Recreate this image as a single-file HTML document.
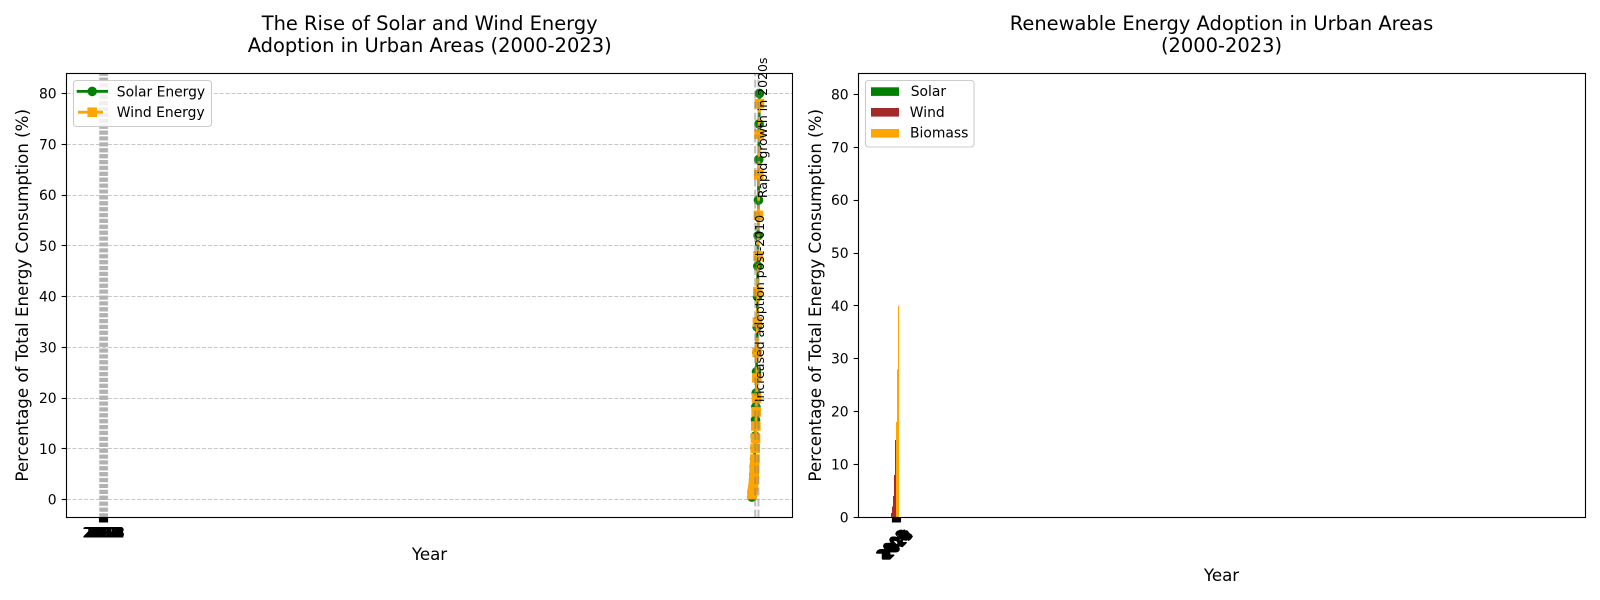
<!DOCTYPE html>
<html>
<head>
<meta charset="utf-8">
<title>Renewable energy charts</title>
<style>
html,body{margin:0;padding:0;background:#fff;width:1600px;height:600px;overflow:hidden}
svg{display:block}
text{font-family:"DejaVu Sans","Liberation Sans",sans-serif;fill:#000}
.t{font-size:19.44px;text-anchor:middle}
.a{font-size:16.67px;text-anchor:middle}
.l{font-size:13.89px}
.n{font-size:12.5px}
</style>
</head>
<body>
<svg id="fig" width="1600" height="600" viewBox="0 0 1600 600" xmlns="http://www.w3.org/2000/svg">
  <g id="left"></g>
  <g id="right"></g>

  <text class="t" x="429.7" y="30">The Rise of Solar and Wind Energy</text>
  <text class="t" x="429.7" y="52">Adoption in Urban Areas (2000-2023)</text>
  <text class="a" x="429.5" y="560">Year</text>
  <text class="a" transform="translate(28,295.3) rotate(-90)">Percentage of Total Energy Consumption (%)</text>

  <text class="t" x="1221.5" y="30">Renewable Energy Adoption in Urban Areas</text>
  <text class="t" x="1221.5" y="52">(2000-2023)</text>
  <text class="a" x="1221.5" y="581">Year</text>
  <text class="a" transform="translate(821,295.3) rotate(-90)">Percentage of Total Energy Consumption (%)</text>

  <g>
    <rect x="73.5" y="80.5" width="138" height="46" rx="3" fill="#fff" fill-opacity="0.8" stroke="#ccc" stroke-width="1.1"/>
    <line x1="76.7" x2="108" y1="91.4" y2="91.4" stroke="#008000" stroke-width="2.78"/>
    <circle cx="92.2" cy="91.4" r="4.8" fill="#008000"/>
    <line x1="78" x2="106" y1="112.2" y2="112.2" stroke="#ffa500" stroke-width="2.78" stroke-dasharray="10.3 4.4"/>
    <rect x="87.4" y="107.4" width="9.6" height="9.6" fill="#ffa500"/>
    <text class="l" x="116.8" y="96.5">Solar Energy</text>
    <text class="l" x="116.8" y="117">Wind Energy</text>
  </g>
  <g>
    <rect x="865.5" y="80.5" width="108.5" height="66.5" rx="3" fill="#fff" fill-opacity="0.8" stroke="#ccc" stroke-width="1.1"/>
    <rect x="871" y="87.3" width="28" height="8.6" fill="#008000"/>
    <rect x="871" y="108" width="28" height="8.6" fill="#a52a2a"/>
    <rect x="871" y="129" width="28" height="8.6" fill="#ffa500"/>
    <text class="l" x="910.7" y="96">Solar</text>
    <text class="l" x="909.8" y="117">Wind</text>
    <text class="l" x="910" y="137.5">Biomass</text>
  </g>
</svg>
<script>
const years = ["2000","2001","2002","2003","2004","2005","2006","2007","2008","2009","2010","2011","2012","2013","2014","2015","2016","2017","2018","2019","2020","2021","2022","2023"];
const lineYears = [2000,2001,2002,2003,2004,2005,2006,2007,2008,2009,2010,2011,2012,2013,2014,2015,2016,2017,2018,2019,2020,2021,2022,2023];
const solarShare = [0.5,1,1.5,2,3,4,5,6.5,8,10.2,12.5,15.7,18.3,21,25.2,29,34,40,46,52,59,67,74,80];
const windShare = [1,1.2,1.5,2,2.5,3,4,5.2,6.5,8,10.1,12.1,14.5,17.3,20,24,29,35,41,48,56,64,72,78];
const lineYTicks = [0,10,20,30,40,50,60,70,80];
const barYTicks = [0,10,20,30,40,50,60,70,80];
const markerYears = [2010,2020];
const noteLabels = ["Increased adoption post-2010","Rapid growth in 2020s"];
const noteHeights = [19.2,59.4];
const barSolar = [0.2,0.4,0.8,0,0,0,0,0,0,0,0,0,0,0,0,0,0,0,0,0,0,0,0,0];
const barWind = [0,0,0,1,1.5,2,2.5,3.2,4,5,6.5,8,10,12,14.6,0,0,0,0,0,0,0,0,0];
const barBiomass = [0,0,0,0,0,0,0,0,0,0,0,0,0,0,0,15,16.5,18,20,24,28,31,35,40];

const NS = 'http://www.w3.org/2000/svg';
function make(parent, tag, attrs, txt) {
  const el = document.createElementNS(NS, tag);
  for (const k in attrs) el.setAttribute(k, attrs[k]);
  if (txt !== undefined) el.textContent = txt;
  parent.appendChild(el);
  return el;
}
function linear(d0, d1, r0, r1) {
  return v => r0 + (v - d0) * (r1 - r0) / (d1 - d0);
}
function snap(v) { return Math.floor(v) + 0.5; }

const plotTop = 73.5, plotBottom = 517.5;
const LL = 66.5, LR = 792.5, RL = 858.5, RR = 1585.5;

const xL = linear(-101.15, 2124.15, 67, 792.4);
const yL = linear(-3.475, 83.975, 517.3, 73.3);
const xR = linear(-103.2, 2124.15, 859, 1585.4);
const yR = linear(0, 84, 517.3, 73.3);

const gL = document.getElementById('left');
const gR = document.getElementById('right');

/* ---------- left chart ---------- */
lineYTicks.forEach(v => {
  const g = make(gL, 'line', {x1: LL, x2: LR, y1: snap(yL(v)), y2: snap(yL(v)), stroke: '#b0b0b0', 'stroke-opacity': 0.7, 'stroke-width': 1.11, 'stroke-dasharray': '4.11 1.78'});
  
  
});
years.forEach((label, i) => {
  const g = make(gL, 'line', {x1: snap(xL(i)), x2: snap(xL(i)), y1: plotBottom, y2: plotTop, stroke: '#b0b0b0', 'stroke-opacity': 0.7, 'stroke-width': 1.11, 'stroke-dasharray': '4.11 1.78'});
  
  
});

const solarPts = lineYears.map((yr, i) => xL(yr) + ',' + yL(solarShare[i])).join(' ');
const solarLine = make(gL, 'polyline', {points: solarPts, fill: 'none', stroke: '#008000', 'stroke-width': 2.78});


lineYears.forEach((yr, i) => {
  const c = make(gL, 'circle', {cx: xL(yr), cy: yL(solarShare[i]), r: 4.8, fill: '#008000'});
  
  
});
const windPts = lineYears.map((yr, i) => xL(yr) + ',' + yL(windShare[i])).join(' ');
const windLine = make(gL, 'polyline', {points: windPts, fill: 'none', stroke: '#ffa500', 'stroke-width': 2.78, 'stroke-dasharray': '10.3 4.4'});


lineYears.forEach((yr, i) => {
  const r = make(gL, 'rect', {x: xL(yr) - 4.8, y: yL(windShare[i]) - 4.8, width: 9.6, height: 9.6, fill: '#ffa500'});
  
  
});
markerYears.forEach((yr, i) => {
  const m = make(gL, 'line', {x1: xL(yr), x2: xL(yr), y1: plotBottom, y2: plotTop, stroke: '#808080', 'stroke-opacity': 0.5, 'stroke-width': 2.08, 'stroke-dasharray': '7.7 3.33'});
  
  
  const t = make(gL, 'text', {class: 'n', transform: 'translate(' + (xL(yr) + 8.8) + ',' + yL(noteHeights[i]) + ') rotate(-90)'}, noteLabels[i]);
  
  
});
const frameL = make(gL, 'rect', {x: LL, y: plotTop, width: LR - LL, height: plotBottom - plotTop, fill: 'none', stroke: '#000', 'stroke-width': 1.11});


lineYTicks.forEach(v => {
  const k = make(gL, 'line', {x1: LL - 4.86, x2: LL, y1: snap(yL(v)), y2: snap(yL(v)), stroke: '#000', 'stroke-width': 1.11});
  
  
  const t = make(gL, 'text', {class: 'l', x: LL - 9.9, y: yL(v) + 5, 'text-anchor': 'end'}, String(v));
  
  
});
years.forEach((label, i) => {
  const k = make(gL, 'line', {x1: snap(xL(i)), x2: snap(xL(i)), y1: plotBottom, y2: plotBottom + 4.86, stroke: '#000', 'stroke-width': 1.11});
  
  
  const t = make(gL, 'text', {class: 'l', x: xL(i), y: 537.6, 'text-anchor': 'middle'}, label);
  
  
});

/* ---------- right chart ---------- */
function drawBars(values, colour, name) {
  values.forEach((v, i) => {
    if (!v) return;
    const left = Math.floor(xR(i) - 1.46);
    const b = make(gR, 'rect', {x: left, y: yR(v), width: 1, height: yR(0) - yR(v), fill: colour, 'shape-rendering': 'crispEdges'});
    
    
  });
}
drawBars(barSolar, '#008000', 'solar-bar');
drawBars(barWind, '#a52a2a', 'wind-bar');
drawBars(barBiomass, '#ffa500', 'biomass-bar');

const frameR = make(gR, 'rect', {x: RL, y: plotTop, width: RR - RL, height: plotBottom - plotTop, fill: 'none', stroke: '#000', 'stroke-width': 1.11});


barYTicks.forEach(v => {
  const k = make(gR, 'line', {x1: RL - 4.86, x2: RL, y1: snap(yR(v)), y2: snap(yR(v)), stroke: '#000', 'stroke-width': 1.11});
  
  
  const t = make(gR, 'text', {class: 'l', x: RL - 9.9, y: yR(v) + 5, 'text-anchor': 'end'}, String(v));
  
  
});
years.forEach((label, i) => {
  const k = make(gR, 'line', {x1: snap(xR(i)), x2: snap(xR(i)), y1: plotBottom, y2: plotBottom + 4.86, stroke: '#000', 'stroke-width': 1.11});
  
  
  const t = make(gR, 'text', {class: 'l', 'text-anchor': 'middle', transform: 'translate(' + (xR(i) + 1.7) + ',548) rotate(-45)'}, label);
  
  
});
</script>
</body>
</html>
